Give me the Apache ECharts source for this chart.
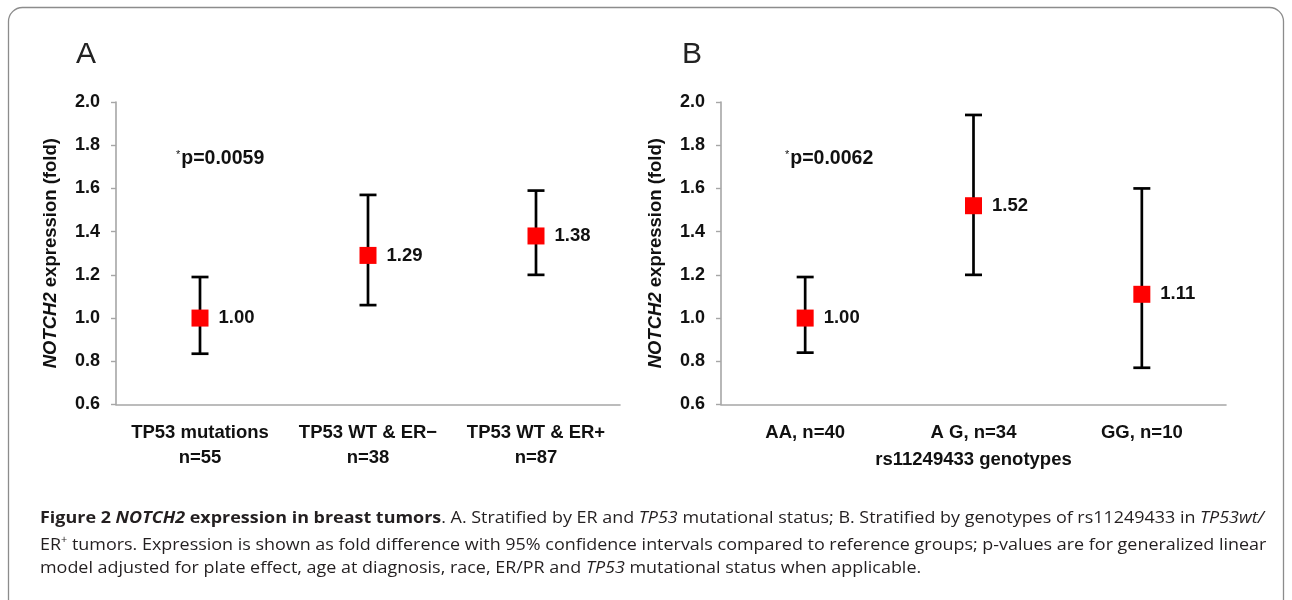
<!DOCTYPE html>
<html>
<head>
<meta charset="utf-8">
<script src="https://cdn.jsdelivr.net/npm/echarts@6/dist/echarts.min.js"></script>
<style>
html,body{margin:0;padding:0;background:#fff;}
#chart{width:1292px;height:600px;}
</style>
</head>
<body>
<div id="chart"></div>
<script>
// ---- data ----
var categoriesA = ['TP53 mutations\nn=55', 'TP53 WT & ER\u2212\nn=38', 'TP53 WT & ER+\nn=87'];
var meanA = [1.00, 1.29, 1.38];
var lowA  = [0.835, 1.06, 1.20];
var highA = [1.19, 1.57, 1.59];

var categoriesB = ['AA, n=40', 'A G, n=34', 'GG, n=10'];
var meanB = [1.00, 1.52, 1.11];
var lowB  = [0.84, 1.20, 0.77];
var highB = [1.19, 1.94, 1.60];

var yMin = 0.6, yMax = 2.0, yStep = 0.2;
var pValueA = '0.0059';
var pValueB = '0.0062';
var xNameB = 'rs11249433 genotypes';

var captionLines = [
  [['b','Figure 2 '],['bi','NOTCH2'],['b',' expression in breast tumors'],['r','. A. Stratified by ER and '],['i','TP53'],['r',' mutational status; B. Stratified by genotypes of rs11249433 in '],['i','TP53wt/']],
  [['r','ER'],['sup','+'],['r',' tumors. Expression is shown as fold difference with 95% confidence intervals compared to reference groups; p-values are for generalized linear']],
  [['r','model adjusted for plate effect, age at diagnosis, race, ER/PR and '],['i','TP53'],['r',' mutational status when applicable.']]
];

// ---- rendering ----
var FONT = "'Liberation Sans', Arial, sans-serif";
var CAP_FONT = "'Open Sans', 'Noto Sans', sans-serif";
var CAP_SIZE = 16.5;
var capStyles = {
  b:   {fontWeight:'bold', fontStyle:'normal', fontSize:CAP_SIZE},
  bi:  {fontWeight:'bold', fontStyle:'italic', fontSize:CAP_SIZE},
  r:   {fontWeight:'normal', fontStyle:'normal', fontSize:CAP_SIZE},
  i:   {fontWeight:'normal', fontStyle:'italic', fontSize:CAP_SIZE},
  sup: {fontWeight:'normal', fontStyle:'normal', fontSize:10}
};

var ctx = document.createElement('canvas').getContext('2d');
function lineWidth(segs){
  var w = 0;
  segs.forEach(function(s){
    var st = capStyles[s[0]];
    ctx.font = st.fontStyle + ' ' + st.fontWeight + ' ' + st.fontSize + 'px ' + CAP_FONT;
    w += ctx.measureText(s[1]).width;
  });
  return w;
}
var capScale = 1224 / lineWidth(captionLines[0]);

var rich = {};
Object.keys(capStyles).forEach(function(k){
  var st = capStyles[k];
  rich[k] = {fontFamily: CAP_FONT, fontSize: st.fontSize, fontWeight: st.fontWeight, fontStyle: st.fontStyle, fill:'#231f20', lineHeight: 20};
  if (k === 'sup') { rich[k].verticalAlign = 'top'; rich[k].padding = [0,0,6,0]; }
});

var captionGraphics = captionLines.map(function(segs, i){
  return {
    type: 'text', left: 40, top: 510 + i * 25, scaleX: capScale,
    style: {
      text: segs.map(function(s){ return '{' + s[0] + '|' + s[1] + '}'; }).join(''),
      rich: rich
    }
  };
});

function errData(means, lows, highs){
  return means.map(function(m, i){ return [i, lows[i], highs[i]]; });
}
function pointData(means){
  return means.map(function(m, i){ return [i, m]; });
}

function renderErr(params, api){
  var x = api.value(0);
  var lo = api.coord([x, api.value(1)]);
  var hi = api.coord([x, api.value(2)]);
  var hw = 8.5;
  var st = {stroke:'#000', lineWidth:2.7};
  return {
    type:'group',
    children:[
      {type:'line', shape:{x1:lo[0], y1:lo[1], x2:hi[0], y2:hi[1]}, style:st},
      {type:'line', shape:{x1:lo[0]-hw, y1:lo[1], x2:lo[0]+hw, y2:lo[1]}, style:st},
      {type:'line', shape:{x1:hi[0]-hw, y1:hi[1], x2:hi[0]+hw, y2:hi[1]}, style:st}
    ]
  };
}

function yAxisDef(gridIndex){
  return {
    type:'value', gridIndex:gridIndex, min:yMin, max:yMax, interval:yStep,
    splitLine:{show:false},
    axisLine:{show:true, lineStyle:{color:'#a6a6a6', width:1.6}},
    axisTick:{show:true, length:5, lineStyle:{color:'#a6a6a6', width:1.4}},
    axisLabel:{color:'#111', fontFamily:FONT, fontWeight:'bold', fontSize:18, margin:16,
      formatter:function(v){ return v.toFixed(1); }},
    name:'{i|NOTCH2} expression (fold)',
    nameLocation:'middle', nameGap:56, nameRotate:90,
    nameTextStyle:{color:'#111', fontFamily:FONT, fontWeight:'bold', fontSize:18.5,
      rich:{i:{fontStyle:'italic', fontWeight:'bold', fontFamily:FONT, fontSize:18.5, color:'#111'}}}
  };
}

function xAxisDef(gridIndex, cats, name){
  var a = {
    type:'category', gridIndex:gridIndex, data:cats,
    axisLine:{show:true, lineStyle:{color:'#a6a6a6', width:1.6}},
    axisTick:{show:false},
    axisLabel:{color:'#111', fontFamily:FONT, fontWeight:'bold', fontSize:18.5, margin:16, lineHeight:25, interval:0}
  };
  if (name) {
    a.name = name; a.nameLocation = 'middle'; a.nameGap = 45;
    a.nameTextStyle = {color:'#111', fontFamily:FONT, fontWeight:'bold', fontSize:18.5};
  }
  return a;
}

function pointSeries(idx, means){
  return {
    type:'scatter', xAxisIndex:idx, yAxisIndex:idx, data:pointData(means),
    symbol:'rect', symbolSize:17, z:5,
    itemStyle:{color:'#ff0000', opacity:1},
    label:{show:true, position:'right', distance:10, color:'#111', fontFamily:FONT, fontWeight:'bold', fontSize:18.5,
      formatter:function(p){ return p.value[1].toFixed(2); }}
  };
}

var pRich = {
  s:{fontFamily:FONT, fontSize:11, fill:'#111', verticalAlign:'top', padding:[0,1,9,0]},
  p:{fontFamily:FONT, fontSize:19.5, fontWeight:'bold', fill:'#111'}
};

var option = {
  backgroundColor:'#fff',
  animation:false,
  grid:[
    {left:116, top:102, width:504, height:302.5},
    {left:721, top:102, width:505, height:302.5}
  ],
  xAxis:[ xAxisDef(0, categoriesA), xAxisDef(1, categoriesB, xNameB) ],
  yAxis:[ yAxisDef(0), yAxisDef(1) ],
  series:[
    {type:'custom', xAxisIndex:0, yAxisIndex:0, data:errData(meanA, lowA, highA), renderItem:renderErr, z:2},
    pointSeries(0, meanA),
    {type:'custom', xAxisIndex:1, yAxisIndex:1, data:errData(meanB, lowB, highB), renderItem:renderErr, z:2},
    pointSeries(1, meanB)
  ],
  graphic:[
    {type:'rect', shape:{x:8.5, y:7.5, width:1275, height:640, r:14}, style:{fill:'none', stroke:'#8c8c8c', lineWidth:1.3}, z:-1},
    {type:'text', left:76, top:40, style:{text:'A', fontFamily:FONT, fontSize:30, fill:'#222'}},
    {type:'text', left:682, top:40, style:{text:'B', fontFamily:FONT, fontSize:30, fill:'#222'}},
    {type:'text', left:176, top:149, style:{text:'{s|*}{p|p=' + pValueA + '}', rich:pRich}},
    {type:'text', left:785, top:149, style:{text:'{s|*}{p|p=' + pValueB + '}', rich:pRich}}
  ].concat(captionGraphics)
};

var chart = echarts.init(document.getElementById('chart'), null, {renderer:'canvas'});
chart.setOption(option);
</script>
</body>
</html>
